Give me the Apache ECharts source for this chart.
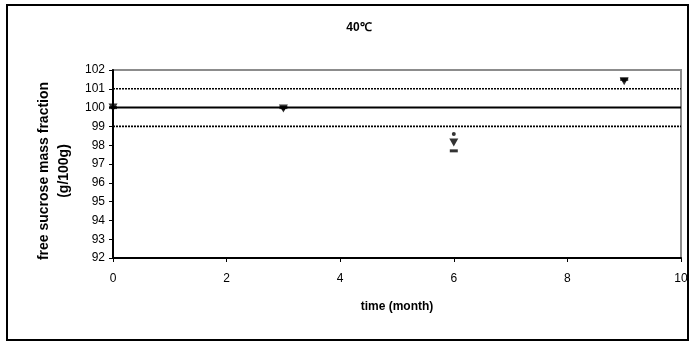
<!DOCTYPE html>
<html><head><meta charset="utf-8">
<script src="https://cdn.jsdelivr.net/npm/echarts@6/dist/echarts.min.js"></script>
<style>html,body{margin:0;padding:0;background:#fff}#c{width:692px;height:345px}</style>
</head><body><div id="c"></div>
<script>
const months = [0, 3, 6, 9];
const seriesA = [100, 99.95, 98.6, 101.45];
const seriesB = [100, 99.95, 98.15, 101.4];
const seriesC = [100, 100, 97.7, 101.5];
const refX = [0, 10];
const target = 100, upper = 101, lower = 99;
const yTicks = [92,93,94,95,96,97,98,99,100,101,102];
const xTicks = [0,2,4,6,8,10];

const font = 'Liberation Sans, Arial, sans-serif';
const pts = (ys) => months.map((m, i) => [m, ys[i]]);
const refLine = (v, type) => ({
  type: 'line', data: refX.map(x => [x, v]), symbol: 'none', silent: true,
  lineStyle: { color: '#000', width: type === 'solid' ? 2 : 1.6, type: type === 'solid' ? 'solid' : [2, 1] },
  z: 2
});
const chart = echarts.init(document.getElementById('c'));
chart.setOption({
  animation: false,
  title: { text: '40℃', left: 354, top: 17, textAlign: 'center',
    textStyle: { fontFamily: font, fontSize: 12, fontWeight: 'bold', color: '#000' } },
  grid: { left: 113, top: 70, right: 11, bottom: 87, show: true, borderColor: '#8c8c8c', borderWidth: 2 },
  graphic: [{ type: 'rect', shape: { x: 7, y: 5, width: 681, height: 335 },
    style: { fill: 'none', stroke: '#000', lineWidth: 2 }, z: 0 }],
  xAxis: { type: 'value', min: xTicks[0], max: xTicks[xTicks.length-1], interval: 2,
    name: 'time (month)', nameLocation: 'middle', nameGap: 43,
    nameTextStyle: { fontFamily: font, fontSize: 12, fontWeight: 'bold', color: '#000' },
    axisLine: { lineStyle: { color: '#000', width: 2 } },
    axisTick: { show: true, length: 4, inside: false, lineStyle: { color: '#000', width: 1 } },
    axisLabel: { fontFamily: font, fontSize: 12, color: '#000', margin: 15 },
    splitLine: { show: false } },
  yAxis: { type: 'value', min: yTicks[0], max: yTicks[yTicks.length-1], interval: 1,
    name: 'free sucrose mass fraction\n(g/100g)', nameLocation: 'middle', nameGap: 31, nameRotate: 90,
    nameTextStyle: { fontFamily: font, fontSize: 14, fontWeight: 'bold', color: '#000', lineHeight: 20, padding: [0, 14, 0, 0] },
    axisLine: { lineStyle: { color: '#000', width: 2 } },
    axisTick: { show: true, length: 4, inside: false, lineStyle: { color: '#000', width: 1 } },
    axisLabel: { fontFamily: font, fontSize: 12, color: '#000', margin: 8 },
    splitLine: { show: false } },
  series: [
    refLine(target, 'solid'), refLine(upper, 'dot'), refLine(lower, 'dot'),
    { type: 'scatter', data: pts(seriesC), symbol: 'rect', symbolSize: [8, 3], itemStyle: { color: '#000' }, z: 5 },
    { type: 'scatter', data: pts(seriesB), symbol: 'triangle', symbolRotate: 180, symbolSize: [9, 8], itemStyle: { color: '#000' }, z: 5 },
    { type: 'scatter', data: pts(seriesA), symbol: 'circle', symbolSize: 4, itemStyle: { color: '#000' }, z: 5 }
  ]
});
</script></body></html>
